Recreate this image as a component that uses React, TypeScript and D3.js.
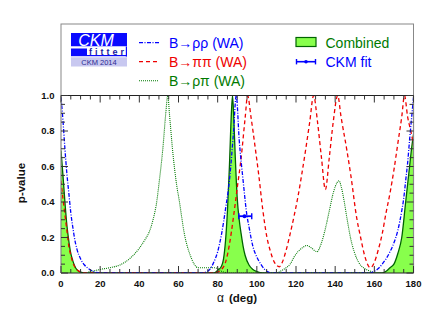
import React from "react";
import * as d3 from "d3";

// ---------- DATA ----------
const combinedAlpha = [0, 1, 2, 3, 4, 5, 6, 7, 8, 10, 12, 78, 80, 82, 83, 84, 85, 86, 87, 87.6, 88.3, 89, 90, 91, 92, 93, 94, 96, 98, 100, 103, 164, 166, 168, 170, 172, 174, 176, 177, 178, 179, 180];
const combinedP = [0.69, 0.55, 0.4, 0.27, 0.18, 0.11, 0.07, 0.04, 0.02, 0.005, 0, 0, 0.015, 0.04, 0.08, 0.18, 0.35, 0.6, 0.9, 1.0, 0.85, 0.65, 0.42, 0.3, 0.22, 0.15, 0.1, 0.045, 0.02, 0.008, 0, 0, 0.01, 0.03, 0.05, 0.11, 0.2, 0.4, 0.5, 0.6, 0.7, 0.78];

const rhorhoAlpha = [0, 1, 2, 3, 4, 5, 6, 7, 8, 10, 12, 14, 16, 18, 20, 72, 74, 76, 78, 80, 82, 84, 86, 88, 89.5, 91, 93, 95, 96, 97, 98, 100, 102, 104, 106, 108, 158, 160, 162, 164, 166, 168, 170, 172, 174, 175, 176, 177, 178, 179, 180];
const rhorhoP = [0.99, 0.86, 0.7, 0.56, 0.45, 0.34, 0.26, 0.19, 0.14, 0.08, 0.045, 0.025, 0.012, 0.003, 0, 0, 0.005, 0.02, 0.06, 0.12, 0.22, 0.36, 0.52, 0.78, 1.0, 0.75, 0.52, 0.32, 0.26, 0.2, 0.15, 0.09, 0.05, 0.02, 0.005, 0, 0, 0.01, 0.025, 0.05, 0.08, 0.12, 0.17, 0.24, 0.35, 0.42, 0.52, 0.62, 0.75, 0.87, 0.99];

const pipiAlpha = [0, 1, 2, 3, 4, 5, 6, 7, 8, 10, 12, 78, 80, 82, 84, 86, 88, 90, 92, 94, 95.3, 97, 99, 101, 103, 105, 107, 109, 111.5, 113, 115, 117, 119, 121, 123, 125, 127, 129, 131, 133, 135, 137, 139, 141.3, 143, 146, 148, 151, 153, 155, 158, 160, 162, 164, 166, 168, 170, 172, 174, 175.4, 177, 179, 180];
const pipiP = [0.52, 0.42, 0.33, 0.24, 0.15, 0.1, 0.06, 0.035, 0.02, 0.005, 0, 0, 0.005, 0.02, 0.06, 0.16, 0.31, 0.48, 0.65, 0.87, 1.0, 0.88, 0.72, 0.55, 0.36, 0.21, 0.12, 0.06, 0.035, 0.06, 0.13, 0.22, 0.32, 0.43, 0.56, 0.7, 0.85, 1.0, 0.85, 0.65, 0.47, 0.65, 0.85, 1.0, 0.88, 0.69, 0.55, 0.31, 0.2, 0.1, 0.03, 0.06, 0.13, 0.22, 0.34, 0.45, 0.58, 0.73, 0.88, 1.0, 0.88, 0.78, 0.72];

const rhopiAlpha = [14, 16, 18, 20, 25, 30, 35, 40, 43, 45, 47, 49, 50, 52, 53.5, 54.5, 55.5, 57, 59, 60.5, 61.7, 63, 64.5, 66, 68, 70, 72, 76, 78, 80, 82, 84, 86, 110, 112, 115, 117, 119, 121, 123, 125.5, 128, 130.7, 133, 135, 137, 139, 141, 142, 143, 144.5, 146, 148, 149.7, 152, 155, 158, 160];
const rhopiP = [0.005, 0.01, 0.015, 0.02, 0.03, 0.045, 0.08, 0.14, 0.19, 0.23, 0.3, 0.41, 0.5, 0.7, 0.9, 1.0, 0.88, 0.69, 0.5, 0.4, 0.31, 0.22, 0.15, 0.1, 0.05, 0.03, 0.03, 0.03, 0.03, 0.025, 0.01, 0.003, 0, 0, 0.01, 0.03, 0.05, 0.09, 0.12, 0.14, 0.155, 0.14, 0.12, 0.17, 0.25, 0.35, 0.45, 0.51, 0.52, 0.49, 0.41, 0.31, 0.19, 0.12, 0.06, 0.025, 0.01, 0];

const ckmFit = { alpha: 93.7, low: 90.8, high: 97.4, p: 0.32 };

const xTicks = [0, 20, 40, 60, 80, 100, 120, 140, 160, 180];
const yTicks = [0, 0.2, 0.4, 0.6, 0.8, 1.0];
const legendLines = ["B→ρρ (WA)", "B→ππ (WA)", "B→ρπ (WA)"];
const legendRight = ["Combined", "CKM fit"];

// ---------- LAYOUT ----------
const W = 436, H = 318;
const L = 61, R = 413.5, T = 95.5, B = 273;
const FONT = "'Liberation Sans', Arial, Helvetica, sans-serif";
const BLUE = "#0000ff", RED = "#ee0000", GREEN = "#007a00", DKGREEN = "#006400", FILL = "#88ff4c";

export default function App() {
  const x = d3.scaleLinear().domain([0, 180]).range([L, R]);
  const y = d3.scaleLinear().domain([0, 1]).range([B, T]);

  const pts = (a: number[], p: number[]) => a.map((v, i) => [v, p[i]] as [number, number]);
  const line = d3.line<[number, number]>().x(d => x(d[0])).y(d => y(d[1])).curve(d3.curveMonotoneX);
  const area = d3.area<[number, number]>().x(d => x(d[0])).y0(y(0)).y1(d => y(d[1])).curve(d3.curveMonotoneX);

  const comb = pts(combinedAlpha, combinedP);
  const minorX = d3.range(0, 181, 5);
  const minorY = d3.range(0, 1.0001, 0.05);

  return (
    <svg width={W} height={H} style={{ position: "absolute", left: 0, top: 0 }} fontFamily={FONT}>
      <rect width={W} height={H} fill="white" />
      <defs>
        <clipPath id="plotclip">
          <rect x={L} y={T} width={R - L} height={B - T} />
        </clipPath>
      </defs>

      {/* Legend box */}
      <rect x={L} y={24} width={R - L} height={T - 24} fill="white" stroke="#888" strokeWidth={1} />

      {/* Logo */}
      <rect x={71} y={33} width={56} height={13.5} fill="#0a0aff" />
      <text x={96} y={45.5} fill="white" fontSize={16} fontStyle="italic" textAnchor="middle">CKM</text>
      <rect x={71} y={46.5} width={56} height={10} fill="white" />
      <rect x={71} y={48.5} width={16} height={6.5} fill="#0a0aff" />
      <rect x={71} y={55} width={56} height={1.2} fill="#0a0aff" />
      <rect x={125.8} y={46.5} width={1.2} height={10} fill="#0a0aff" />
      <text x={89} y={55} fill="#1a1aa0" fontSize={9} fontWeight="bold" letterSpacing={3}>fitter</text>
      <rect x={71} y={57.3} width={56} height={9.2} fill="#c8c8f0" />
      <text x={99} y={65} fill="#2a2a90" fontSize={7.5} textAnchor="middle">CKM 2014</text>

      {/* Legend entries */}
      <line x1={139} x2={159} y1={42.7} y2={42.7} stroke={BLUE} strokeWidth={1.3} strokeDasharray="4,1.5,1,1.5" />
      <text x={169} y={47.5} fontSize={14} fill={BLUE}>{legendLines[0]}</text>
      <line x1={139} x2={159} y1={61.7} y2={61.7} stroke={RED} strokeWidth={1.3} strokeDasharray="4,3" />
      <text x={169} y={66.5} fontSize={14} fill={RED}>{legendLines[1]}</text>
      <line x1={139} x2={159} y1={80.7} y2={80.7} stroke={GREEN} strokeWidth={1.1} strokeDasharray="1,1" />
      <text x={169} y={85.5} fontSize={14} fill={GREEN}>{legendLines[2]}</text>

      <rect x={296} y={37.5} width={20} height={9} fill={FILL} stroke={DKGREEN} strokeWidth={1.2} />
      <text x={325.5} y={47.5} fontSize={14} fill={GREEN}>{legendRight[0]}</text>
      <line x1={296} x2={316} y1={61.7} y2={61.7} stroke={BLUE} strokeWidth={1.6} />
      <line x1={296.5} x2={296.5} y1={59} y2={64.4} stroke={BLUE} strokeWidth={1.4} />
      <line x1={315.5} x2={315.5} y1={59} y2={64.4} stroke={BLUE} strokeWidth={1.4} />
      <circle cx={306} cy={61.7} r={1.8} fill={BLUE} />
      <text x={325.5} y={66.5} fontSize={14} fill={BLUE}>{legendRight[1]}</text>

      {/* Plot */}
      <g clipPath="url(#plotclip)">
        <path d={area(comb) || ""} fill={FILL} />
        <path d={line(comb) || ""} fill="none" stroke={DKGREEN} strokeWidth={1.3} />
        <path d={line(pts(rhopiAlpha, rhopiP)) || ""} fill="none" stroke={GREEN} strokeWidth={1.1} strokeDasharray="1,1" />
        <path d={line(pts(pipiAlpha, pipiP)) || ""} fill="none" stroke={RED} strokeWidth={1.3} strokeDasharray="4,3" />
        <path d={line(pts(rhorhoAlpha, rhorhoP)) || ""} fill="none" stroke={BLUE} strokeWidth={1.3} strokeDasharray="4,1.5,1,1.5" />
      </g>

      {/* CKM fit */}
      <g stroke={BLUE}>
        <line x1={x(ckmFit.low)} x2={x(ckmFit.high)} y1={y(ckmFit.p)} y2={y(ckmFit.p)} strokeWidth={1.8} />
        <line x1={x(ckmFit.low)} x2={x(ckmFit.low)} y1={y(ckmFit.p) - 3} y2={y(ckmFit.p) + 3} strokeWidth={1.4} />
        <line x1={x(ckmFit.high)} x2={x(ckmFit.high)} y1={y(ckmFit.p) - 3} y2={y(ckmFit.p) + 3} strokeWidth={1.4} />
      </g>
      <circle cx={x(ckmFit.alpha)} cy={y(ckmFit.p)} r={2} fill={BLUE} />

      {/* Frame */}
      <line x1={L} x2={R} y1={T} y2={T} stroke="#222" strokeWidth={1} />
      <line x1={L} x2={R} y1={B} y2={B} stroke="#222" strokeWidth={1} />
      <line x1={L} x2={L} y1={T} y2={B} stroke="#888" strokeWidth={1.2} />
      <line x1={R} x2={R} y1={T} y2={B} stroke="#888" strokeWidth={1.2} />

      {/* Ticks */}
      <g stroke="#333" strokeWidth={1}>
        {minorX.map(a => {
          const major = a % 20 === 0;
          const len = major ? 7 : 4;
          return (
            <g key={"xt" + a}>
              <line x1={x(a)} x2={x(a)} y1={B} y2={B - len} />
              <line x1={x(a)} x2={x(a)} y1={T} y2={T + len} />
            </g>
          );
        })}
        {minorY.map((v, i) => {
          const major = i % 4 === 0;
          const len = major ? 7 : 4;
          return (
            <g key={"yt" + i}>
              <line x1={L} x2={L + len} y1={y(v)} y2={y(v)} />
              <line x1={R} x2={R - len} y1={y(v)} y2={y(v)} />
            </g>
          );
        })}
      </g>

      {/* Tick labels */}
      {xTicks.map(a => (
        <text key={"xl" + a} x={x(a)} y={287} fontSize={9.5} fontWeight="bold" textAnchor="middle" fill="#111">{a}</text>
      ))}
      {yTicks.map(v => (
        <text key={"yl" + v} x={54.5} y={y(v) + 3.4} fontSize={9.5} fontWeight="bold" textAnchor="end" fill="#111">{v.toFixed(1)}</text>
      ))}

      {/* Axis titles */}
      <text x={237} y={302} fontSize={11.5} fontWeight="bold" textAnchor="middle" fill="#111">
        <tspan fontWeight="normal" fontSize={12}>α</tspan>
        <tspan dx={5}>(deg)</tspan>
      </text>
      <text transform="translate(25,183) rotate(-90)" fontSize={11.5} fontWeight="bold" textAnchor="middle" fill="#111">p-value</text>
    </svg>
  );
}
